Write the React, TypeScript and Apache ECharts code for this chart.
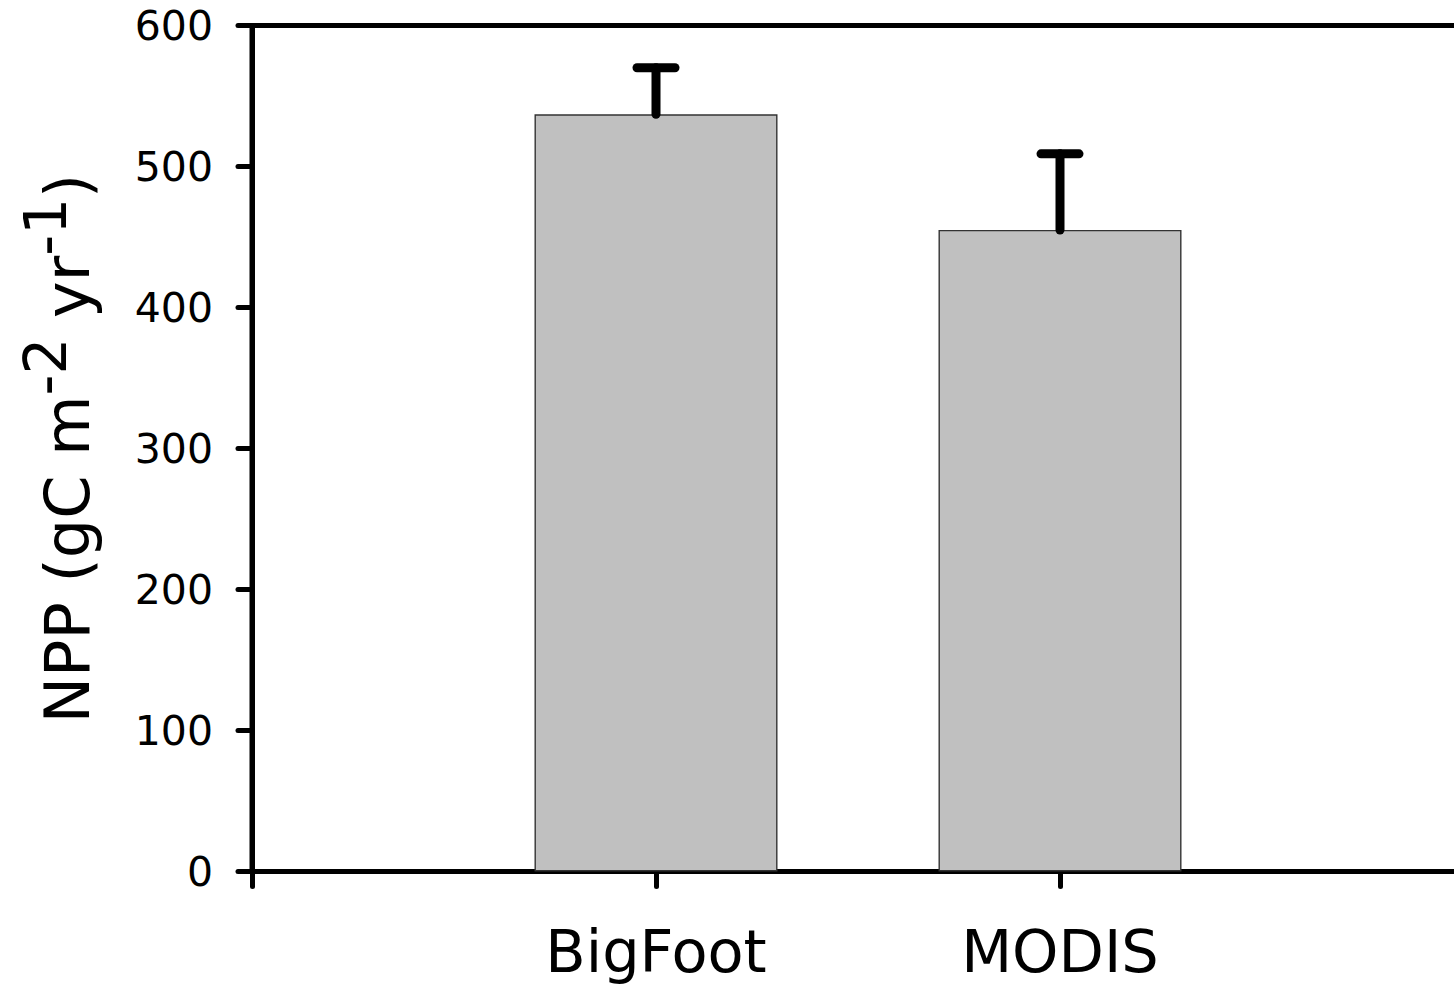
import React, { useEffect, useRef } from "react";
import * as echarts from "echarts";

const categories = ["BigFoot", "MODIS"];
const categoryPositions = [1, 2];
const nppMeans = [537, 455];
const nppUpper = [570, 509];
const yTicks = { min: 0, max: 600, interval: 100 };

const FONT = "DejaVu Sans";

export default function App() {
  const ref = useRef<HTMLDivElement>(null);
  useEffect(() => {
    if (!ref.current) return;
    const chart = echarts.init(ref.current, undefined, { renderer: "svg" });
    const barData = categoryPositions.map((x, i) => [x, nppMeans[i]]);
    const errData = categoryPositions.map((x, i) => [x, nppMeans[i], nppUpper[i]]);
    chart.setOption({
      animation: false,
      backgroundColor: "#fff",
      grid: {
        left: 252,
        right: -10,
        top: 25.5,
        bottom: 114.5,
        containLabel: false,
        outerBoundsMode: "none",
        show: true,
        borderColor: "#000",
        borderWidth: 5,
        backgroundColor: "transparent",
      },
      xAxis: {
        type: "value",
        min: 0,
        max: 3,
        interval: 1,
        splitLine: { show: false },
        axisLine: { show: true, lineStyle: { color: "#000", width: 5, cap: "round" } },
        axisTick: { show: true, length: 15, lineStyle: { color: "#000", width: 5, cap: "round" } },
        axisLabel: {
          color: "#000",
          fontFamily: FONT,
          fontSize: 59,
          margin: 50,
          showMinLabel: true,
          showMaxLabel: true,
          formatter: (v: number) => {
            const idx = categoryPositions.indexOf(v);
            return idx >= 0 ? categories[idx] : "";
          },
        },
      },
      yAxis: {
        type: "value",
        min: yTicks.min,
        max: yTicks.max,
        interval: yTicks.interval,
        splitLine: { show: false },
        axisLine: { show: true, lineStyle: { color: "#000", width: 5, cap: "round" } },
        axisTick: { show: true, length: 14, lineStyle: { color: "#000", width: 5, cap: "round" } },
        axisLabel: { color: "#000", fontFamily: FONT, fontSize: 41, margin: 39 },
        name: "{b|NPP (gC m}{s|-2}{b| yr}{s|-1}{b|)}",
        nameLocation: "middle",
        nameGap: 135,
        nameTextStyle: {
          color: "#000",
          fontFamily: FONT,
          fontSize: 62,
          rich: {
            b: { fontSize: 62, fontFamily: FONT, color: "#000", lineHeight: 100, verticalAlign: "middle" },
            s: { fontSize: 58, fontFamily: FONT, color: "#000", lineHeight: 60, verticalAlign: "top" },
          },
        },
      },
      series: [
        {
          type: "bar",
          data: barData,
          barWidth: 243,
          itemStyle: { color: "#c0c0c0", borderColor: "#333", borderWidth: 1.4 },
          z: 1,
        },
        {
          type: "custom",
          data: errData,
          encode: { x: 0, y: 2 },
          clip: false,
          z: 3,
          renderItem: (params: any, api: any) => {
            const x = api.value(0);
            const p0 = api.coord([x, api.value(1)]);
            const p1 = api.coord([x, api.value(2)]);
            const style = { stroke: "#000", lineWidth: 9, lineCap: "round" };
            return {
              type: "group",
              children: [
                { type: "line", shape: { x1: p0[0], y1: p0[1], x2: p1[0], y2: p1[1] }, style },
                { type: "line", shape: { x1: p1[0] - 19, y1: p1[1], x2: p1[0] + 19, y2: p1[1] }, style },
              ],
            };
          },
        },
      ],
    });
    return () => chart.dispose();
  }, []);
  return (
    <div
      ref={ref}
      style={{ position: "fixed", left: 0, top: 0, width: 1454, height: 986, background: "#fff" }}
    />
  );
}
